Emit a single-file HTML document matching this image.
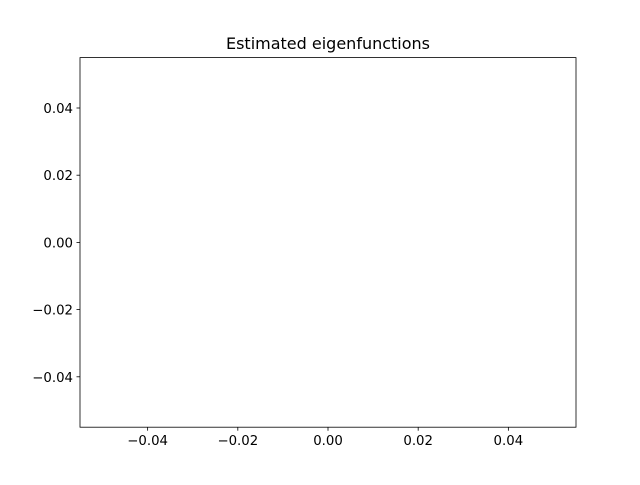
<!DOCTYPE html>
<html><head><meta charset="utf-8"><style>
body{margin:0;background:#fff;}
svg text{font-family:"DejaVu Sans","Liberation Sans",sans-serif;fill:#000;}
</style></head><body>
<svg id="chart" width="640" height="480" viewBox="0 0 640 480">
<rect width="640" height="480" fill="#fff"/>
<text x="328" y="49" text-anchor="middle" font-size="16">Estimated eigenfunctions</text>
<g id="xt"></g>
<g id="yt"></g>
<rect x="80" y="57.6" width="496" height="369.6" fill="none" stroke="#000" stroke-width="0.8"/>
</svg>
<script>
const xTicks=[-0.04,-0.02,0.00,0.02,0.04];
const yTicks=[-0.04,-0.02,0.00,0.02,0.04];
const xMin=-0.055,xMax=0.055,yMin=-0.055,yMax=0.055;
const L=80,R=576,T=57.6,B=427.2;
const sx=v=>L+(v-xMin)/(xMax-xMin)*(R-L);
const sy=v=>B-(v-yMin)/(yMax-yMin)*(B-T);
const NS="http://www.w3.org/2000/svg";
const fmt=v=>(v<0?"\u2212":"")+Math.abs(v).toFixed(2);
const xg=document.getElementById('xt'),yg=document.getElementById('yt');
xTicks.forEach(v=>{
  const l=document.createElementNS(NS,'line');
  l.setAttribute('x1',sx(v));l.setAttribute('x2',sx(v));l.setAttribute('y1',B);l.setAttribute('y2',B+3.5);
  l.setAttribute('stroke','#000');l.setAttribute('stroke-width','0.8');
  
  
  xg.appendChild(l);
  const t=document.createElementNS(NS,'text');
  t.setAttribute('x',sx(v));t.setAttribute('y',B+18);t.setAttribute('text-anchor','middle');t.setAttribute('font-size','13.3');
  t.textContent=fmt(v);
  
  
  xg.appendChild(t);
});
yTicks.forEach(v=>{
  const l=document.createElementNS(NS,'line');
  l.setAttribute('x1',L-3.5);l.setAttribute('x2',L);l.setAttribute('y1',sy(v));l.setAttribute('y2',sy(v));
  l.setAttribute('stroke','#000');l.setAttribute('stroke-width','0.8');
  
  
  yg.appendChild(l);
  const t=document.createElementNS(NS,'text');
  t.setAttribute('x',L-7);t.setAttribute('y',sy(v)+5);t.setAttribute('text-anchor','end');t.setAttribute('font-size','13.3');
  t.textContent=fmt(v);
  
  
  yg.appendChild(t);
});
</script>
</body></html>
